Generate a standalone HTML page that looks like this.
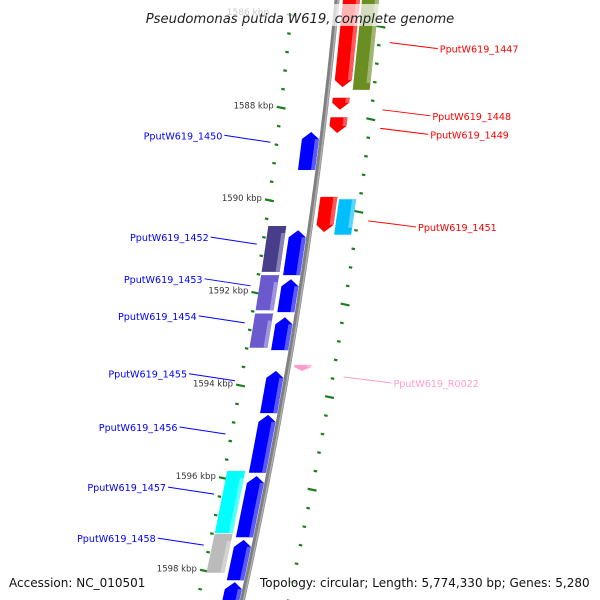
<!DOCTYPE html>
<html><head><meta charset="utf-8"><style>
html,body{margin:0;padding:0;background:#fff;}
svg{display:block;font-family:"DejaVu Sans","Liberation Sans",sans-serif;}
</style></head><body>
<svg id="chart" width="600" height="600" viewBox="0 0 600 600">
<g id="ticks"></g>
<path id="backbone" fill="none"/>
<path id="backbone2" fill="none"/>
<g id="genes"></g>
<g id="labels"></g>
<rect x="135" y="4" width="330" height="22" fill="#fff" opacity="0.7"/>
<text x="248" y="15" font-size="9" fill="#ccc" text-anchor="middle">1586 kbp</text>
<text x="300" y="23" font-size="13.2" font-style="italic" fill="#222" text-anchor="middle">Pseudomonas putida W619, complete genome</text>
<rect x="4" y="572" width="145" height="18" fill="#fff" opacity="0.7"/>
<rect x="256" y="572" width="340" height="18" fill="#fff" opacity="0.7"/>
<text x="9" y="587" font-size="12" fill="#111">Accession: NC_010501</text>
<text x="260" y="587" font-size="12" fill="#111">Topology: circular; Length: 5,774,330 bp; Genes: 5,280</text>
</svg>
<script>
// data
const geneNames = ["PputW619_1447","olive-1447b","PputW619_1448","PputW619_1449","PputW619_1450","PputW619_1451","cyan-1451b","PputW619_1452","purple-1452b","PputW619_1453","purple-1453b","PputW619_1454","purple-1454b","PputW619_R0022","PputW619_1455","PputW619_1456","PputW619_1457","cyan-1457b","PputW619_1458","gray-1458b","PputW619_1459"];
const geneStart = [1585.57,1585.57,1587.79,1588.21,1588.53,1589.93,1589.98,1590.65,1590.56,1591.71,1591.62,1592.53,1592.45,1593.56,1593.69,1594.64,1595.96,1595.85,1597.34,1597.21,1598.25];
const geneEnd   = [1587.56,1587.62,1588.05,1588.55,1589.35,1590.69,1590.75,1591.62,1591.55,1592.42,1592.38,1593.24,1593.19,1593.69,1594.60,1595.89,1597.28,1597.19,1598.21,1598.05,1598.75];
const geneTrack = ["f1","f2","f1","f1","r1","f1","f2","r1","r2","r1","r2","r1","r2","f1","r1","r1","r1","r2","r1","r2","r1"];
const geneColor = ["#ff0000","#6b8e23","#ff0000","#ff0000","#0000ff","#ff0000","#00bfff","#0000ff","#483d8b","#0000ff","#6a5acd","#0000ff","#6a5acd","#ff9ec8","#0000ff","#0000ff","#0000ff","#00ffff","#0000ff","#bbbbbb","#0000ff"];
const labelNames = ["PputW619_1447","PputW619_1448","PputW619_1449","PputW619_1451","PputW619_R0022","PputW619_1450","PputW619_1452","PputW619_1453","PputW619_1454","PputW619_1455","PputW619_1456","PputW619_1457","PputW619_1458"];
const labelKbp = [1586.6,1588.05,1588.45,1590.45,1593.82,1588.6,1590.8,1591.7,1592.5,1593.75,1594.9,1596.2,1597.3];
const labelColor = ["#ff0000","#ff0000","#ff0000","#ff0000","#ff9ec8","#0000ff","#0000ff","#0000ff","#0000ff","#0000ff","#0000ff","#0000ff","#0000ff"];
const labelSide = ["R","R","R","R","R","L","L","L","L","L","L","L","L"];
const kbpLabels = [1588,1590,1592,1594,1596,1598];

const NS="http://www.w3.org/2000/svg";
function yOf(k){return 107.5+(k-1588)*46.3;}
function bx(y){return 337-0.094*y-0.000106*y*y;}
const tracks={f1:[6,23],f2:[25,42],r1:[-20,-3],r2:[-42,-24]};
function mk(tag,attrs,parent){const e=document.createElementNS(NS,tag);for(const k in attrs)e.setAttribute(k,attrs[k]);parent.appendChild(e);return e;}

let d="";for(let y=-5;y<=605;y+=5){d+=(y===-5?"M":"L")+bx(y).toFixed(1)+","+y;}
const bb=document.getElementById("backbone");bb.setAttribute("d",d);bb.setAttribute("stroke","#808080");bb.setAttribute("stroke-width","5");
let d2="";for(let y=-5;y<=605;y+=5){d2+=(y===-5?"M":"L")+(bx(y)+1.2).toFixed(1)+","+y;}
const bb2=document.getElementById("backbone2");bb2.setAttribute("d",d2);bb2.setAttribute("stroke","#b0b0b0");bb2.setAttribute("stroke-width","1.5");

const tg=document.getElementById("ticks");
for(let k=1585.6;k<=1599.2;k+=0.4){
  const y=yOf(k);const rel=((k-1588)%2+2)%2;const major=rel<0.05||rel>1.95;
  const x=bx(y)-45;
  const r=mk("rect",{x:(major?x-4:x-1.5),y:y-1,width:major?9:3.5,height:2.2,fill:"#1e7d1e",transform:"rotate(12 "+x+" "+y+")"},tg);
  
  
}
for(let k=1586.25;k<=1599;k+=0.4){
  const y=yOf(k);const rel=((k-1588.25)%2+2)%2;const major=rel<0.05||rel>1.95;
  const x=bx(y)+46;
  const r=mk("rect",{x:(major?x-4:x-1.5),y:y-1,width:major?9:3.5,height:2.2,fill:"#1e7d1e",transform:"rotate(12 "+x+" "+y+")"},tg);
  
  
}
kbpLabels.forEach(k=>{
  const y=yOf(k);
  const t=mk("text",{x:bx(y)-52,y:y+1,"font-size":"8.5","fill":"#333","text-anchor":"end"},tg);
  t.textContent=k+" kbp";
  
  
});

const gg=document.getElementById("genes");
function lighten(c){const n=parseInt(c.slice(1),16);let r=n>>16,g=(n>>8)&255,b=n&255;r=Math.round(r+(255-r)*0.35);g=Math.round(g+(255-g)*0.35);b=Math.round(b+(255-b)*0.35);return "rgb("+r+","+g+","+b+")";}
geneNames.forEach((nm,i)=>{
  const y1=yOf(geneStart[i]),y2=yOf(geneEnd[i]);
  const [a,b]=tracks[geneTrack[i]];
  const outer=geneTrack[i]==="f2"||geneTrack[i]==="r2";
  const up=geneTrack[i][0]==="r";
  const P=(y,o)=>(bx(y)+o).toFixed(1)+","+y.toFixed(1);
  let pts;
  const h=Math.min(7,(y2-y1)*0.6);
  if(outer){pts=[P(y1,a),P(y1,b),P(y2,b),P(y2,a)];}
  else if(up){const m=(a+b)/2;pts=[P(y1,m),P(y1+h,b),P(y2,b),P(y2,a),P(y1+h,a)];}
  else{const m=(a+b)/2;pts=[P(y1,a),P(y1,b),P(y2-h,b),P(y2,m),P(y2-h,a)];}
  const g=mk("polygon",{points:pts.join(" "),fill:geneColor[i]},gg);
  
  
  const s1=up?y1+h:y1, s2=up?y2:y2-h;
  const st=mk("polygon",{points:[P(s1,b-4),P(s1,b),P(s2,b),P(s2,b-4)].join(" "),fill:lighten(geneColor[i])},gg);
  
  
});

const lg=document.getElementById("labels");
labelNames.forEach((nm,i)=>{
  const y=yOf(labelKbp[i]);const c=labelColor[i];
  let x1,y1,x2,y2,tx,anchor;
  if(labelSide[i]==="R"){x1=bx(y)+57;y1=y;x2=x1+48;y2=y+6;tx=x2+2;anchor="start";}
  else{x2=bx(y)-52;y2=y+7;x1=x2-46;y1=y;tx=x1-2;anchor="end";}
  const l=mk("line",{x1:x1,y1:y1,x2:x2,y2:y2,stroke:c,"stroke-width":"1"},lg);
  
  
  const t=mk("text",{x:tx,y:(anchor==="start"?y2:y1)+4,"font-size":"9.6",fill:c,"text-anchor":anchor},lg);
  t.textContent=nm;
  
  
});
</script>
</body></html>
